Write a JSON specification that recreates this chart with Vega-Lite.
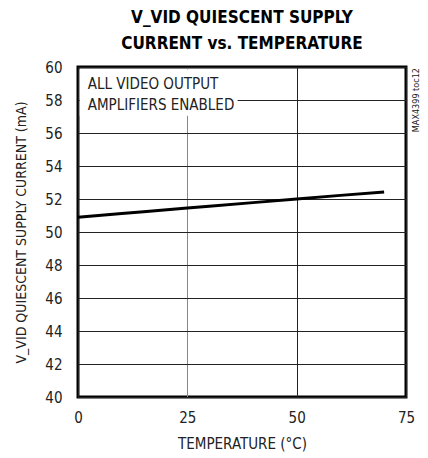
{
  "$schema": "https://vega.github.io/schema/vega-lite/v6.json",
  "autosize": {"type": "none"},
  "padding": {"left": 78, "top": 67, "right": 22, "bottom": 61},
  "width": 328,
  "height": 330,
  "config": {
    "font": "DejaVu Sans Condensed, sans-serif",
    "view": {"stroke": "black", "strokeWidth": 3},
    "axis": {
      "labelFont": "DejaVu Sans Condensed, sans-serif",
      "titleFont": "DejaVu Sans Condensed, sans-serif",
      "labelFontSize": 15,
      "titleFontSize": 15,
      "titleFontWeight": "normal",
      "labelColor": "#222",
      "titleColor": "#222",
      "domain": false,
      "ticks": false,
      "labelOverlap": false,
      "gridColor": "#222",
      "gridOpacity": 1,
      "gridWidth": 1
    }
  },
  "title": {
    "text": ["V_VID QUIESCENT SUPPLY", "CURRENT vs. TEMPERATURE"],
    "font": "DejaVu Sans Condensed, sans-serif",
    "fontSize": 17,
    "fontWeight": "bold",
    "lineHeight": 26,
    "color": "black",
    "anchor": "middle",
    "offset": 7
  },
  "datasets": {
    "curve": [
      {"temp": 0, "current": 50.9},
      {"temp": 10, "current": 51.12},
      {"temp": 15, "current": 51.23},
      {"temp": 25, "current": 51.45},
      {"temp": 30, "current": 51.56},
      {"temp": 40, "current": 51.78},
      {"temp": 50, "current": 52.0},
      {"temp": 60, "current": 52.22},
      {"temp": 70, "current": 52.43}
    ],
    "note": [
      {"x0": 0.4, "x1": 36.5, "y0": 57.05, "y1": 59.85, "label": ["ALL VIDEO OUTPUT", "AMPLIFIERS ENABLED"]}
    ]
  },
  "resolve": {"axis": {"x": "independent", "y": "independent"}},
  "layer": [
    {
      "data": {"name": "curve"},
      "mark": {"type": "line", "color": "black", "strokeWidth": 3},
      "encoding": {
        "x": {
          "field": "temp", "type": "quantitative",
          "scale": {"domain": [0, 75], "nice": false},
          "axis": {
            "values": [0, 25, 50, 75], "title": "TEMPERATURE (°C)", "labelPadding": 13, "titlePadding": 11, "labelFlush": false,
            "gridColor": {"condition": {"test": "datum.value === 25", "value": "#888"}, "value": "#222"}
          }
        },
        "y": {
          "field": "current", "type": "quantitative",
          "scale": {"domain": [40, 60], "nice": false, "zero": false},
          "axis": {"values": [40, 42, 44, 46, 48, 50, 52, 54, 56, 58, 60], "title": "V_VID QUIESCENT SUPPLY CURRENT (mA)", "titleFontSize": 14, "labelPadding": 16, "titlePadding": 16}
        }
      }
    },
    {
      "data": {"name": "note"},
      "mark": {"type": "rect", "fill": "white"},
      "encoding": {
        "x": {"field": "x0", "type": "quantitative", "axis": null},
        "x2": {"field": "x1"},
        "y": {"field": "y0", "type": "quantitative", "axis": null},
        "y2": {"field": "y1"}
      }
    },
    {
      "data": {"name": "note"},
      "mark": {"type": "text", "align": "left", "baseline": "top", "fontSize": 15, "lineHeight": 21, "color": "#222", "dx": 8, "dy": 8},
      "encoding": {
        "x": {"field": "x0", "type": "quantitative", "axis": null},
        "y": {"field": "y1", "type": "quantitative", "axis": null},
        "text": {"field": "label"}
      }
    },
    {
      "data": {"values": [{"t": 75, "v": 60, "id": "MAX4399 toc12"}]},
      "mark": {"type": "text", "angle": 270, "align": "right", "baseline": "middle", "fontSize": 9, "color": "#222", "dx": -1, "dy": 10, "font": "DejaVu Sans Condensed, sans-serif"},
      "encoding": {
        "x": {"field": "t", "type": "quantitative", "axis": null},
        "y": {"field": "v", "type": "quantitative", "axis": null},
        "text": {"field": "id"}
      }
    }
  ]
}
